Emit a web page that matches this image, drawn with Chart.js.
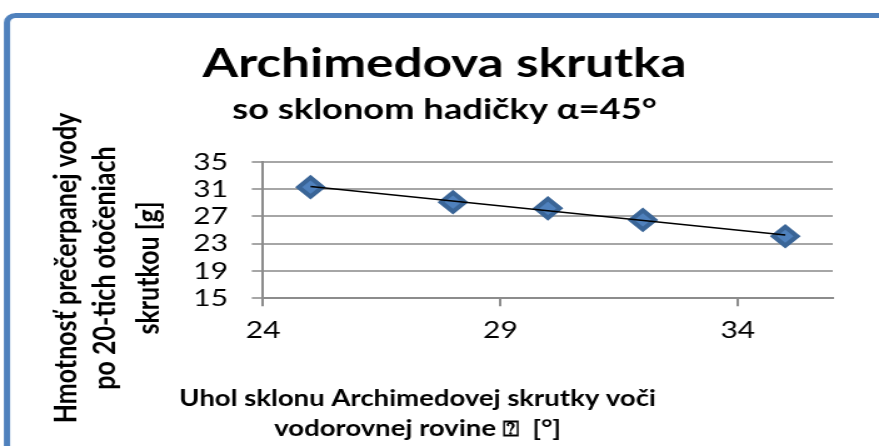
<!DOCTYPE html>
<html><head><meta charset="utf-8">
<script src="https://cdn.jsdelivr.net/npm/chart.js@4.4.1/dist/chart.umd.min.js"></script>
<style>html,body{margin:0;padding:0;background:#fff;overflow:hidden}</style>
</head><body>
<canvas id="c" width="703" height="446" style="display:block;width:879px;height:446px"></canvas>
<script>
const chartTitle = 'Archimedova skrutka';
const chartSubtitle = 'so sklonom hadičky α=45°';
const xTitleLines = ['Uhol sklonu Archimedovej skrutky voči', 'vodorovnej rovine ⍰  [°]'];
const yTitleLines = ['Hmotnosť prečerpanej vody', 'po 20-tich otočeniach', 'skrutkou [g]'];
const angles = [25, 28, 30, 32, 35];
const masses = [31.3, 29.1, 28.2, 26.5, 24.1];
const xTicks = [24, 29, 34];
const yTicks = [15, 19, 23, 27, 31, 35];

// linear trendline (least squares), as drawn by the spreadsheet
const n = angles.length;
const mx = angles.reduce((s, v) => s + v, 0) / n;
const my = masses.reduce((s, v) => s + v, 0) / n;
let sxy = 0, sxx = 0;
angles.forEach((x, i) => { sxy += (x - mx) * (masses[i] - my); sxx += (x - mx) * (x - mx); });
const slope = sxy / sxx, icpt = my - slope * mx;
const xFirst = angles[0], xLast = angles[n - 1];

const decor = {
  id: 'decor',
  beforeDraw(chart) {
    const ctx = chart.ctx;
    ctx.save();
    ctx.strokeStyle = '#4f81bd'; ctx.lineWidth = 5;
    const x0 = 5.6, y0 = 15.5, r = 7;
    ctx.beginPath();
    ctx.moveTo(x0, chart.height + 10);
    ctx.lineTo(x0, y0 + r);
    ctx.arcTo(x0, y0, x0 + r, y0, r);
    ctx.lineTo(chart.width + 10, y0);
    ctx.stroke();
    ctx.restore();
  },
  afterDraw(chart) {
    const ctx = chart.ctx;
    ctx.save();
    ctx.fillStyle = '#000';
    ctx.textAlign = 'center'; ctx.textBaseline = 'middle';
    ctx.font = 'bold 22px Lato';
    xTitleLines.forEach((t, i) => ctx.fillText(t, 334, 399 + i * 30));
    ctx.translate(0, 268); ctx.rotate(-Math.PI / 2);
    ctx.font = 'bold 25px Lato';
    const xs = [53, 84, 119];
    yTitleLines.forEach((t, i) => ctx.fillText(t, 0, xs[i]));
    ctx.restore();
  }
};

new Chart(document.getElementById('c'), {
  type: 'scatter',
  data: {
    datasets: [
      {
        type: 'line',
        data: [{x: xFirst, y: icpt + slope * xFirst}, {x: xLast, y: icpt + slope * xLast}],
        borderColor: '#000', borderWidth: 1.6, pointRadius: 0, fill: false, order: 0
      },
      {
        data: angles.map((x, i) => ({x, y: masses[i]})),
        pointStyle: 'rectRot', pointRadius: 9.5, borderWidth: 4,
        borderColor: '#3a6597', backgroundColor: '#4f81bd', order: 1
      }
    ]
  },
  options: {
    responsive: false, animation: false, devicePixelRatio: 1,
    layout: {padding: {top: 39, left: 45, right: 37, bottom: 91}},
    plugins: {
      legend: {display: false}, tooltip: {enabled: false},
      title: {display: true, text: chartTitle, color: '#000',
        font: {family: 'Lato', size: 41, weight: 'bold'}, padding: {top: 0, bottom: 0}},
      subtitle: {display: true, text: chartSubtitle, color: '#000',
        font: {family: 'Lato', size: 29, weight: 'bold'}, padding: {top: 4.4, bottom: 34.6}}
    },
    scales: {
      x: {
        type: 'linear', min: 24, max: 36,
        afterBuildTicks: s => { s.ticks = xTicks.map(v => ({value: v})); },
        grid: {drawOnChartArea: false, drawTicks: true, tickLength: 8, color: '#8c8c8c', lineWidth: 2},
        border: {display: true, color: '#8c8c8c', width: 2},
        ticks: {padding: 10, color: '#000', maxRotation: 0, autoSkip: false, font: {family: 'Lato', size: 24}}
      },
      y: {
        min: 15, max: 35,
        afterBuildTicks: s => { s.ticks = yTicks.map(v => ({value: v})); },
        afterFit: s => { s.width = 165.4; },
        grid: {color: '#a6a6a6', lineWidth: 2, tickLength: 9, drawTicks: true},
        border: {display: true, color: '#8c8c8c', width: 2},
        ticks: {padding: 19, color: '#000', autoSkip: false, font: {family: 'Lato', size: 24}}
      }
    }
  },
  plugins: [decor]
});
</script>
</body></html>
